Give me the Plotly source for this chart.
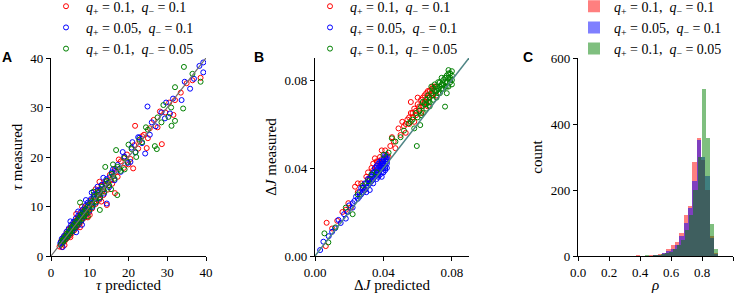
import plotly.graph_objects as go

# ---------------- data ----------------
series_names = ["<i>q</i><sub>+</sub> = 0.1,  <i>q</i><sub>−</sub> = 0.1",
                "<i>q</i><sub>+</sub> = 0.05,  <i>q</i><sub>−</sub> = 0.1",
                "<i>q</i><sub>+</sub> = 0.1,  <i>q</i><sub>−</sub> = 0.05"]

# Panel A: tau predicted / measured
tau_red = [(2.2,1.9),(2.6,3.0),(3.0,2.5),(3.3,3.9),(3.6,3.1),(3.9,4.5),(4.2,3.6),(4.5,5.3),(4.8,4.1),(5.1,5.8),
           (5.4,4.6),(5.7,6.5),(6.0,5.2),(6.3,7.1),(6.6,5.8),(6.9,7.8),(7.2,6.3),(7.5,8.4),(7.8,6.9),(8.1,9.0),
           (8.4,7.6),(8.7,9.7),(9.0,8.0),(9.4,10.3),(9.8,8.8),(10.2,11.2),(10.6,9.6),(11.0,12.0),(11.5,10.5),(12.0,13.1),
           (12.5,11.4),(13.0,14.2),(13.5,12.3),(14.0,15.1),(14.6,13.4),(15.2,16.4),(15.8,14.6),(16.5,17.6),(17.2,16.0),(18.0,19.1),
           (18.8,17.8),(19.6,20.5),(20.5,19.6),(21.5,22.4),(22.5,21.7),
           (21.2,17.7),(16.5,12.7),(14.4,10.3),(21.7,26.3),(24.7,21.8),(28.6,22.6),(28.1,29.2),(31.6,28.5),(32.0,31.5),
           (35.0,34.9),(38.6,36.0),(36.5,35.5),(23.5,24.2),(25.5,25.8),(26.5,27.5),(27.5,26.0),(29.5,29.0),(30.5,31.0),
           (33.5,33.0),(24.0,24.5),(22.8,23.2),(25.0,23.8),(6.5,8.5),(5.0,3.8),(3.5,2.2),(2.8,1.8),(7.5,5.8),(9.5,7.8),
           (11.5,13.5),(12.5,15.0),(8.0,10.0),(10.0,8.3),(13.0,11.0),(17.5,19.5),(19.0,20.0),(20.0,18.5),
           (2.9,3.3),(3.4,3.4),(4.0,4.2),(4.6,4.5),(5.2,5.4),(5.8,5.6),(6.4,6.6),(7.0,6.9),(7.6,7.8),(8.2,8.1),
           (8.8,9.0),(9.5,9.4),(10.3,10.4),(11.2,11.0),(12.1,12.3),(13.2,13.0),(14.3,14.5),(15.5,15.3),(16.8,17.0)]
tau_blue = [(2.4,2.6),(2.8,3.5),(3.1,2.8),(3.4,4.1),(3.7,3.4),(4.0,4.9),(4.3,3.9),(4.6,5.6),(4.9,4.5),(5.2,6.3),
            (5.5,5.0),(5.8,6.9),(6.1,5.6),(6.4,7.6),(6.7,6.1),(7.0,8.1),(7.3,6.7),(7.6,8.8),(7.9,7.2),(8.2,9.4),
            (8.5,7.9),(8.8,10.1),(9.1,8.5),(9.5,10.8),(9.9,9.1),(10.3,11.5),(10.7,9.9),(11.1,12.4),(11.6,10.8),(12.1,13.3),
            (12.6,11.7),(13.1,14.4),(13.7,12.6),(14.3,15.5),(15.0,13.9),(15.7,16.9),(16.4,15.3),(17.2,18.4),(18.0,17.0),(18.9,20.1),
            (19.8,18.8),(20.8,21.9),(21.8,20.9),(22.8,23.9),
            (14.4,10.6),(24.9,30.2),(29.7,31.0),(30.7,28.8),(29.4,27.8),(24.3,20.7),(33.7,31.5),(35.9,33.8),(36.9,35.8),
            (38.3,38.4),(39.3,39.1),(39.3,37.1),(26.0,27.0),(27.0,26.2),(22.5,24.0),(23.5,22.8),(25.5,24.5),(28.5,29.0),
            (31.5,31.8),(34.5,35.2),(12.0,14.0),(9.0,11.3),(7.0,9.0),(6.5,4.8),(3.0,1.8),(5.0,7.0),(10.5,12.8),(16.0,17.5),
            (18.5,21.0),(20.5,19.0),(21.0,23.0),(8.0,6.3),(13.5,15.8),
            (2.6,2.9),(3.2,3.6),(3.9,4.1),(4.5,4.9),(5.1,5.5),(5.7,6.1),(6.3,6.8),(6.9,7.3),(7.5,8.0),(8.1,8.6),
            (8.7,9.3),(9.4,9.9),(10.1,10.7),(10.9,11.6),(11.8,12.5),(12.8,13.5),(13.9,14.6),(15.1,15.9),(16.5,17.2)]
tau_green = [(2.5,2.3),(2.9,3.2),(3.2,2.9),(3.5,3.8),(3.8,3.4),(4.1,4.5),(4.4,4.0),(4.7,5.1),(5.0,4.6),(5.3,5.8),
             (5.6,5.1),(5.9,6.4),(6.2,5.8),(6.5,7.0),(6.8,6.3),(7.1,7.6),(7.4,6.9),(7.7,8.3),(8.0,7.5),(8.3,8.9),
             (8.6,8.1),(8.9,9.5),(9.2,8.7),(9.6,10.2),(10.0,9.4),(10.4,11.0),(10.8,10.2),(11.2,11.9),(11.7,11.0),(12.2,12.9),
             (12.7,11.9),(13.2,14.0),(13.8,13.0),(14.4,15.2),(15.0,14.3),(15.7,16.6),(16.4,15.6),(17.2,18.0),(18.0,17.2),(18.9,19.8),
             (19.8,19.0),(20.8,21.6),(21.8,21.0),(22.8,23.5),
             (34.3,38.2),(38.6,35.2),(32.0,34.1),(34.1,29.8),(32.0,27.3),(31.1,26.3),(30.3,28.1),(26.8,22.2),(27.3,21.6),
             (16.8,21.4),(17.1,12.3),(12.6,9.3),(7.5,10.8),(14.0,18.0),(16.0,18.5),(25.0,25.5),(27.5,28.0),(28.5,27.0),
             (23.5,23.0),(24.5,26.0),(29.0,30.5),(31.0,30.0),(36.5,36.8),(20.0,22.5),(22.0,20.0),(11.0,13.0),(9.5,8.0),
             (19.0,17.5),(15.5,13.5),
             (3.0,3.1),(3.7,3.8),(4.3,4.3),(4.9,5.0),(5.5,5.6),(6.1,6.1),(6.7,6.8),(7.3,7.3),(7.9,8.0),(8.5,8.5),
             (9.1,9.2),(9.8,9.8),(10.6,10.6),(11.5,11.5),(12.4,12.4),(13.5,13.5),(14.7,14.8),(16.0,16.1),(17.6,17.6)]

# Panel B: Delta J predicted / measured
dj_red = [(0.0063,0.0045),(0.0068,0.0151),(0.010,0.0125),(0.013,0.016),(0.016,0.020),(0.0195,0.024),(0.021,0.022),
          (0.0234,0.0315),(0.025,0.029),(0.027,0.033),(0.028,0.031),(0.030,0.036),(0.031,0.038),(0.032,0.035),(0.033,0.040),
          (0.034,0.042),(0.035,0.0444),(0.036,0.040),(0.037,0.043),(0.038,0.045),(0.039,0.044),(0.041,0.048),(0.042,0.046),
          (0.044,0.050),(0.046,0.052),(0.0488,0.058),(0.050,0.055),(0.052,0.059),(0.054,0.062),(0.055,0.060),(0.056,0.065),
          (0.057,0.063),(0.058,0.067),(0.059,0.064),(0.060,0.069),(0.061,0.066),(0.062,0.071),(0.063,0.068),(0.064,0.073),
          (0.065,0.070),(0.066,0.075),(0.067,0.072),(0.068,0.076),(0.069,0.074),(0.070,0.077),(0.071,0.073),(0.066,0.068),
          (0.062,0.065),(0.058,0.061),(0.053,0.056),(0.047,0.049),(0.043,0.045),(0.036,0.037),(0.029,0.030),(0.045,0.054),
          (0.051,0.061),(0.060,0.072),(0.056,0.070),(0.039,0.048),(0.025,0.033),(0.018,0.021),
          (0.063,0.072),(0.065,0.074),(0.067,0.075),(0.069,0.077),(0.064,0.070),(0.066,0.072),(0.068,0.073),(0.061,0.068),
          (0.059,0.066),(0.057,0.065),(0.055,0.063),(0.053,0.060),(0.034,0.039),(0.036,0.043),(0.038,0.042),(0.031,0.035)]
dj_blue = [(0.003,0.0027),(0.0049,0.0065),(0.008,0.009),(0.0117,0.0126),(0.0137,0.0164),(0.015,0.015),(0.017,0.019),
           (0.019,0.020),(0.020,0.023),(0.022,0.022),(0.023,0.025),(0.024,0.027),(0.025,0.026),(0.026,0.029),(0.027,0.028),
           (0.028,0.031),(0.029,0.030),(0.030,0.033),(0.031,0.032),(0.032,0.035),(0.033,0.034),(0.034,0.037),(0.035,0.036),
           (0.036,0.039),(0.037,0.038),(0.038,0.041),(0.039,0.040),(0.040,0.043),(0.041,0.042),(0.042,0.044),(0.035,0.040),
           (0.037,0.042),(0.039,0.043),(0.041,0.045),(0.040,0.040),(0.038,0.037),(0.036,0.035),(0.034,0.033),(0.033,0.036),
           (0.031,0.035),(0.029,0.033),(0.027,0.031),(0.040,0.038),(0.042,0.040),(0.041,0.039),(0.039,0.036),(0.030,0.029),
           (0.032,0.030),(0.036,0.037),(0.038,0.039),(0.040,0.041),(0.042,0.043),(0.041,0.046),(0.034,0.035),(0.037,0.040),
           (0.026,0.027),(0.022,0.024),(0.018,0.017),(0.010,0.011),
           (0.035,0.038),(0.036,0.041),(0.037,0.036),(0.038,0.043),(0.039,0.038),(0.040,0.044),(0.041,0.040),(0.042,0.042),
           (0.033,0.037),(0.034,0.038),(0.032,0.033),(0.030,0.031),(0.028,0.029),(0.039,0.042),(0.041,0.043),(0.042,0.045)]
dj_green = [(0.0055,0.0103),(0.0078,0.0062),(0.012,0.013),(0.018,0.022),(0.022,0.019),(0.025,0.028),(0.028,0.032),
            (0.031,0.034),(0.033,0.037),(0.036,0.038),(0.040,0.046),(0.043,0.047),(0.0449,0.0535),(0.047,0.052),(0.050,0.054),
            (0.052,0.057),(0.0546,0.0603),(0.0595,0.050),(0.0615,0.0595),(0.057,0.062),(0.059,0.065),(0.061,0.066),(0.062,0.068),
            (0.063,0.070),(0.064,0.069),(0.065,0.071),(0.066,0.073),(0.067,0.072),(0.068,0.074),(0.069,0.076),(0.070,0.075),
            (0.071,0.077),(0.072,0.076),(0.073,0.079),(0.074,0.078),(0.075,0.080),(0.076,0.079),(0.077,0.082),(0.078,0.081),
            (0.079,0.083),(0.078,0.0845),(0.076,0.0679),(0.077,0.074),(0.075,0.076),(0.073,0.074),(0.071,0.072),(0.069,0.071),
            (0.067,0.068),(0.065,0.067),(0.063,0.065),(0.079,0.079),(0.078,0.077),(0.080,0.080),(0.074,0.081),(0.072,0.079),
            (0.070,0.078),(0.068,0.077),(0.062,0.064),(0.058,0.058),(0.056,0.061),(0.060,0.063),(0.066,0.070),(0.080,0.082),
            (0.079,0.081),
            (0.075,0.078),(0.076,0.081),(0.077,0.079),(0.078,0.083),(0.079,0.080),(0.080,0.084),(0.080,0.078),(0.077,0.077),
            (0.073,0.077),(0.071,0.075),(0.069,0.073),(0.067,0.070),(0.065,0.069),(0.074,0.076),(0.072,0.074),(0.076,0.077)]

# identity reference lines
diag_A = [0, 40]
diag_B = [0, 0.09]

# Panel C: histogram of rho
rho_rb_centers = [0.388,0.416,0.444,0.472,0.500,0.528,0.556,0.584,0.612,0.640,0.668,0.696,0.724,0.752,0.780,0.808,0.836,0.864,0.892]
rho_red_counts = [3,0,1,2,3,6,10,22,32,42,69,123,153,284,359,290,200,60,8]
rho_blue_counts = [0,0,0,1,2,4,8,14,22,34,60,100,144,226,352,299,242,55,6]
rho_green_centers = [0.420,0.446,0.472,0.498,0.524,0.550,0.576,0.602,0.628,0.654,0.680,0.706,0.732,0.758,0.784,0.810,0.836,0.862,0.888]
rho_green_counts = [0,3,1,2,3,5,8,12,20,32,50,80,125,200,299,506,359,96,20]
rho_bin_rb = 0.028
rho_bin_g = 0.026

# ---------------- figure ----------------
SERIF = "Liberation Serif"
cols = ["#ff0000", "#0000ff", "#008000"]
fills = ["rgba(255,0,0,0.5)", "rgba(0,0,255,0.5)", "rgba(0,128,0,0.5)"]

fig = go.Figure()

for name, data, c in zip(series_names, [tau_red, tau_blue, tau_green], cols):
    fig.add_trace(go.Scatter(x=[p[0] for p in data], y=[p[1] for p in data], mode="markers",
                             name=name, legend="legend", xaxis="x", yaxis="y",
                             marker=dict(symbol="circle-open", size=5, color=c, line=dict(width=1, color=c))))
fig.add_trace(go.Scatter(x=diag_A, y=diag_A, mode="lines", showlegend=False, xaxis="x", yaxis="y",
                         line=dict(color="#707070", width=1.2)))

for name, data, c in zip(series_names, [dj_red, dj_blue, dj_green], cols):
    fig.add_trace(go.Scatter(x=[p[0] for p in data], y=[p[1] for p in data], mode="markers",
                             name=name, legend="legend2", xaxis="x2", yaxis="y2",
                             marker=dict(symbol="circle-open", size=5, color=c, line=dict(width=1, color=c))))
fig.add_trace(go.Scatter(x=diag_B, y=diag_B, mode="lines", showlegend=False, xaxis="x2", yaxis="y2",
                         line=dict(color="#4f8585", width=1.5)))

for name, xs, ys, w, f in zip(series_names,
                              [rho_rb_centers, rho_rb_centers, rho_green_centers],
                              [rho_red_counts, rho_blue_counts, rho_green_counts],
                              [rho_bin_rb, rho_bin_rb, rho_bin_g], fills):
    fig.add_trace(go.Bar(x=xs, y=ys, width=w, name=name, legend="legend3", xaxis="x3", yaxis="y3",
                         marker=dict(color=f, line=dict(width=0))))

W, H = 741, 293
ytop, ybot = 58, 256
ydom = [1 - ybot / H, 1 - ytop / H]

def xdom(a, b):
    return [a / W, b / W]

axis_common = dict(showgrid=False, zeroline=False, showline=True, linecolor="black", linewidth=1.3,
                   ticks="outside", ticklen=4, tickwidth=1.3, tickcolor="black", mirror=False,
                   automargin=False,
                   tickfont=dict(family=SERIF, size=13, color="black"),
                   title_font=dict(family=SERIF, size=15, color="black"))

fig.update_layout(
    width=W, height=H, margin=dict(l=0, r=0, t=0, b=0, autoexpand=False),
    paper_bgcolor="white", plot_bgcolor="white", barmode="overlay", bargap=0,
    font=dict(family=SERIF, color="black"),
    xaxis=dict(domain=xdom(51, 206), anchor="y", range=[0, 40], tickvals=[0, 10, 20, 30, 40],
               title=dict(text="<i>τ</i> predicted", standoff=1), **axis_common),
    yaxis=dict(domain=ydom, anchor="x", range=[0, 40], tickvals=[0, 10, 20, 30, 40],
               title=dict(text="<i>τ</i> measured", standoff=4), **axis_common),
    xaxis2=dict(domain=xdom(315, 469), anchor="y2", range=[0, 0.09], tickvals=[0, 0.04, 0.08], tickformat=".2f",
                title=dict(text="Δ<i>J</i> predicted", standoff=1), **axis_common),
    yaxis2=dict(domain=ydom, anchor="x2", range=[0, 0.09], tickvals=[0, 0.04, 0.08], tickformat=".2f",
                title=dict(text="Δ<i>J</i> measured", standoff=4), **axis_common),
    xaxis3=dict(domain=xdom(578, 733), anchor="y3", range=[0, 1.0], tickvals=[0, 0.2, 0.4, 0.6, 0.8, 1.0],
                tickformat=".1f", title=dict(text="<i>ρ</i>", standoff=1), **axis_common),
    yaxis3=dict(domain=ydom, anchor="x3", range=[0, 600], tickvals=[0, 200, 400, 600],
                title=dict(text="count", standoff=4), **axis_common),
)

leg_common = dict(font=dict(family=SERIF, size=14, color="black"), bgcolor="rgba(0,0,0,0)",
                  yanchor="top", y=1.032, xanchor="left", tracegroupgap=0, itemwidth=30)
fig.update_layout(
    legend=dict(x=(93 - 47) / W, **leg_common),
    legend2=dict(x=(357 - 47) / W, **leg_common),
    legend3=dict(x=(621 - 47) / W, **leg_common),
)

for lab, px in [("A", 0), ("B", 252), ("C", 521)]:
    fig.add_annotation(text="<b>" + lab + "</b>", x=px / W, y=1 - 57 / H, xref="paper", yref="paper",
                       xanchor="left", yanchor="middle", showarrow=False,
                       font=dict(family="Liberation Sans", size=14, color="black"))

fig.write_html("out.html", config={"displayModeBar": False},
               post_script="document.body.style.margin='0';document.body.style.overflow='hidden';")
